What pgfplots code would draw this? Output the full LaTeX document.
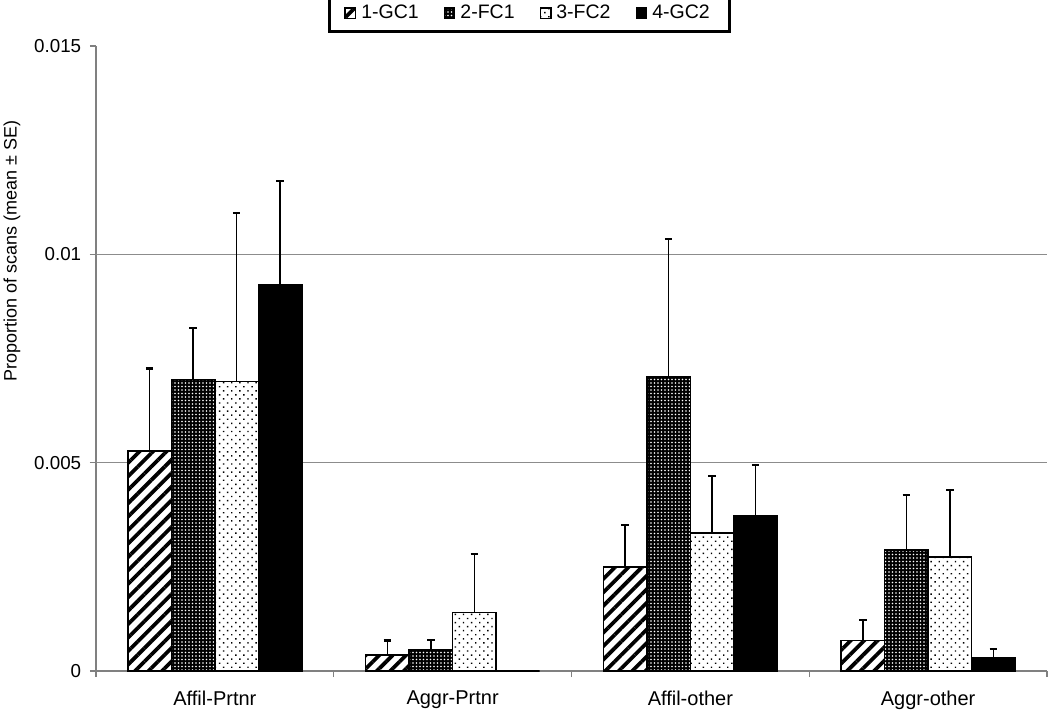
\documentclass[border=0pt]{standalone}
\usepackage{fontspec}
\setmainfont{Liberation Sans}
\usepackage{pgfplots}
\pgfplotsset{compat=1.18}
\usetikzlibrary{patterns.meta}

\pgfplotsset{
  errstyle/.style={
    error bars/.cd,
      y dir=plus, y explicit,
      error bar style={line width=0.6pt, draw=black},
      error mark options={rotate=90, mark size=1.5pt, line width=0.9pt, draw=black},
  },
}

\begin{document}
\begin{tikzpicture}
\begin{axis}[
  at={(0,0)}, anchor=south west,
  scale only axis, width=380.4pt, height=250pt,
  ybar=0pt, bar width=0.183,
  xmin=-0.5, xmax=3.5, ymin=0, ymax=0.015,
  axis x line*=bottom, axis y line*=left,
  axis line style={draw=black!50, line width=0.6pt},
  tick align=outside,
  major tick length=2.4pt, minor tick length=2.4pt,
  xtick={0,1,2,3},
  xticklabels={Affil-Prtnr,Aggr-Prtnr,Affil-other,Aggr-other},
  minor xtick={-0.5,0.5,1.5,2.5,3.5},
  major x tick style={draw=none},
  minor x tick style={draw=black!50, line width=0.6pt},
  scaled y ticks=false,
  ytick={0,0.005,0.01,0.015},
  yticklabels={0,0.005,0.01,0.015},
  y tick style={draw=black!50, line width=0.6pt},
  extra y ticks={0.005,0.01},
  extra y tick labels={},
  extra y tick style={grid=major, major grid style={draw=black!45, line width=0.6pt}},
  /pgf/number format/assume math mode=true,
  tick label style={font=\fontsize{7.5}{9}\selectfont},
  xticklabel style={font=\fontsize{8}{9}\selectfont, yshift=-2pt},
  ylabel={Proportion of scans (mean ± SE)},
  ylabel style={font=\fontsize{7.2}{9}\selectfont, at={(axis description cs:-0.0883,0.672)}, anchor=center},
  legend columns=4,
  legend style={at={(0.456,1)}, anchor=south, yshift=5.2pt,
    draw=black, line width=1.2pt, font=\fontsize{7.8}{9}\selectfont,
    inner xsep=6pt, inner ysep=1.6pt,
    /tikz/every even column/.append style={column sep=8pt}},
  legend image code/.code={\draw[#1,line width=0.5pt] (0pt,-1.9pt) rectangle (4.2pt,2.3pt);},
]
\addplot[draw=black, line width=0.6pt, preaction={fill=white},
  pattern={Lines[angle=45,distance=3.8pt,line width=1.5pt]}, errstyle]
  coordinates {(0,0.00528) +- (0,0.00198) (1,0.00038) +- (0,0.00035)
               (2,0.00250) +- (0,0.00100) (3,0.00073) +- (0,0.00049)};
\addlegendentry{1-GC1}
\addplot[draw=black, line width=0.6pt, fill=black,
  postaction={pattern={Dots[distance=1.4pt,radius=0.38pt]}, pattern color=white}, errstyle]
  coordinates {(0,0.00700) +- (0,0.00123) (1,0.00050) +- (0,0.00025)
               (2,0.00707) +- (0,0.00329) (3,0.00290) +- (0,0.00133)};
\addlegendentry{2-FC1}
\addplot[draw=black, line width=0.6pt, preaction={fill=white},
  pattern={Dots[distance=2.3pt,radius=0.4pt,angle=45]}, errstyle]
  coordinates {(0,0.00695) +- (0,0.00405) (1,0.00141) +- (0,0.00139)
               (2,0.00331) +- (0,0.00137) (3,0.00274) +- (0,0.00160)};
\addlegendentry{3-FC2}
\addplot[draw=black, line width=0.6pt, fill=black, errstyle]
  coordinates {(0,0.00926) +- (0,0.00250) (1,0) +- (0,0)
               (2,0.00372) +- (0,0.00122) (3,0.00033) +- (0,0.00019)};
\addlegendentry{4-GC2}
\end{axis}
\pgfresetboundingbox
\path (-38.4pt,-16.4pt) rectangle (381.6pt,268.4pt);
\end{tikzpicture}
\end{document}
